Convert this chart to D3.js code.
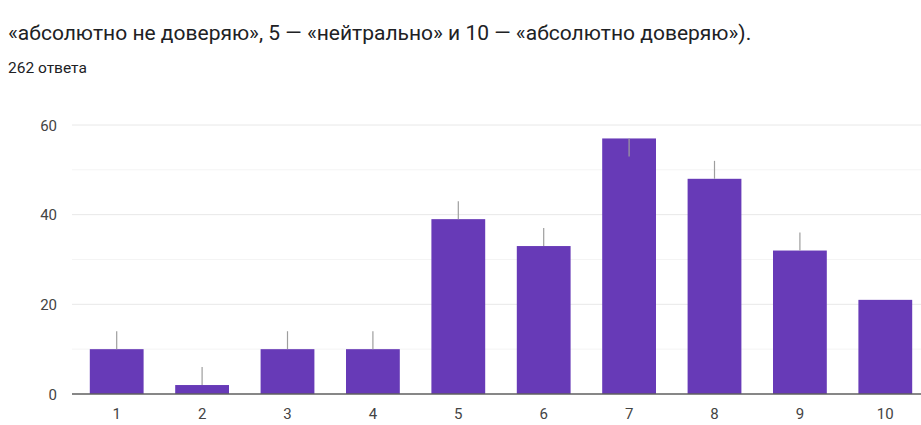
<!DOCTYPE html>
<html><head><meta charset="utf-8">
<script src="https://cdn.jsdelivr.net/npm/d3@7"></script>
<style>
html,body{margin:0;padding:0;background:#fff;overflow:hidden}
svg{display:block}
</style></head>
<body>
<svg id="c" width="921" height="425"></svg>
<script>
const titleText = "«абсолютно не доверяю», 5 — «нейтрально» и 10 — «абсолютно доверяю»).";
const subtitleText = "262 ответа";
const categories = ["1","2","3","4","5","6","7","8","9","10"];
const values = [10, 2, 10, 10, 39, 33, 57, 48, 32, 21];
const whiskers = [4, 4, 4, 4, 4, 4, -4, 4, 4, 0];
const yTicks = [0, 20, 40, 60];
const yMinorTicks = [10, 30, 50];

const svg = d3.select("#c");
const font = "Roboto, 'Noto Sans', Arial, sans-serif";

svg.append("text").attr("x", 8).attr("y", 40)
  .attr("font-family", font).attr("font-size", 21).attr("fill", "#202124")
  .text(titleText);
svg.append("text").attr("x", 8).attr("y", 73)
  .attr("font-family", font).attr("font-size", 15.5).attr("fill", "#202124")
  .text(subtitleText);

const x = d3.scaleBand().domain(categories).range([74, 928])
  .paddingInner(0.37).paddingOuter(0.185);
const y = d3.scaleLinear().domain([0, 60]).range([394, 125]);
const left = 72, right = 921;

const g = svg.append("g");
g.selectAll("line.minor").data(yMinorTicks).join("line")
  .attr("x1", left).attr("x2", right)
  .attr("y1", d => y(d)).attr("y2", d => y(d))
  .attr("stroke", "#f4f4f4").attr("stroke-width", 1);
g.selectAll("line.major").data(yTicks.filter(d => d > 0)).join("line")
  .attr("x1", left).attr("x2", right)
  .attr("y1", d => y(d)).attr("y2", d => y(d))
  .attr("stroke", "#e8e8e8").attr("stroke-width", 1);

const yAxis = d3.axisLeft(y).tickValues(yTicks).tickSize(0).tickPadding(0);
const ya = svg.append("g").attr("transform", `translate(57,0)`).call(yAxis);
ya.select(".domain").remove();
ya.selectAll("text").attr("font-family", font).attr("font-size", 15).attr("fill", "#444")
  .attr("dy", "0.35em");

g.selectAll("rect.bar").data(values).join("rect")
  .attr("x", (d, i) => x(categories[i]))
  .attr("width", x.bandwidth())
  .attr("y", d => y(d))
  .attr("height", d => y(0) - y(d))
  .attr("fill", "#673ab7");

g.selectAll("line.err").data(values).join("line")
  .attr("x1", (d, i) => x(categories[i]) + x.bandwidth() / 2)
  .attr("x2", (d, i) => x(categories[i]) + x.bandwidth() / 2)
  .attr("y1", d => y(d))
  .attr("y2", (d, i) => y(d + whiskers[i]))
  .attr("stroke", "#9e9e9e").attr("stroke-width", 1.2)
  .attr("display", (d, i) => whiskers[i] === 0 ? "none" : null);

svg.append("line").attr("x1", left).attr("x2", right)
  .attr("y1", y(0)).attr("y2", y(0))
  .attr("stroke", "#5f5f5f").attr("stroke-width", 1.5);

const xAxis = d3.axisBottom(x).tickSize(0).tickPadding(0);
const xa = svg.append("g").attr("transform", `translate(0,${y(0)})`).call(xAxis);
xa.select(".domain").remove();
xa.selectAll("text").attr("font-family", font).attr("font-size", 15).attr("fill", "#444")
  .attr("dy", null).attr("y", 25);
</script>
</body></html>
